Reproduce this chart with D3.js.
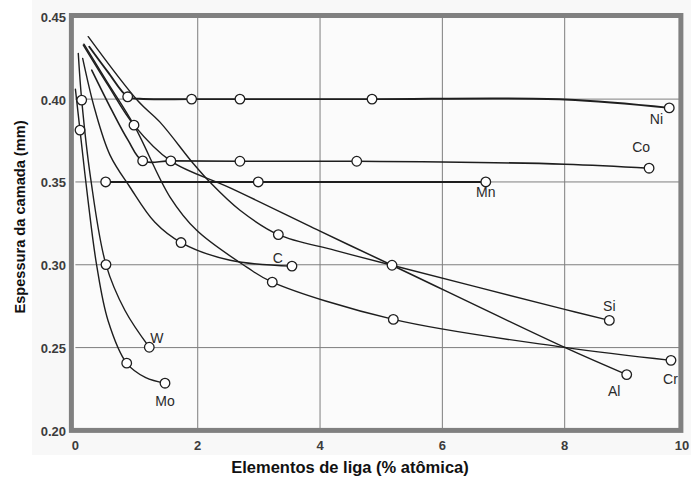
<!DOCTYPE html>
<html>
<head>
<meta charset="utf-8">
<script src="https://cdn.jsdelivr.net/npm/d3@7/dist/d3.min.js"></script>
<style>
  html, body { margin: 0; padding: 0; background: #ffffff; }
  svg { display: block; }
</style>
</head>
<body>
<svg id="chart" width="691" height="477"></svg>
<script>
// Axis ticks
const xTicks = [0, 2, 4, 6, 8, 10];
const yTicks = [0.20, 0.25, 0.30, 0.35, 0.40, 0.45];
const xTitle = "Elementos de liga (% atômica)";
const yTitle = "Espessura da camada (mm)";

// Curves: [% atomic, thickness mm]; markers are the measured points
const niLine    = [[0.227,0.4316],[0.533,0.4163],[0.855,0.4014],[1.05,0.4002],[1.90,0.400],[2.69,0.400],[4.85,0.400],[8.0,0.3998],[9.71,0.3947]];
const niMarks   = [[0.855,0.4014],[1.90,0.400],[2.69,0.400],[4.85,0.400],[9.71,0.3947]];

const coLine    = [[0.267,0.4175],[0.594,0.3933],[0.86,0.3752],[1.10,0.3627],[1.56,0.3627],[2.69,0.3625],[4.60,0.3625],[8.0,0.3607],[9.38,0.3583]];
const coMarks   = [[1.10,0.3627],[1.56,0.3627],[2.69,0.3625],[4.60,0.3625],[9.38,0.3583]];

const mnLine    = [[0.495,0.350],[6.71,0.350]];
const mnMarks   = [[0.495,0.350],[2.99,0.350],[6.71,0.350]];

const moLine    = [[0.0,0.406],[0.075,0.3813],[0.206,0.339],[0.348,0.2996],[0.533,0.2664],[0.839,0.2406],[1.15,0.2318],[1.465,0.2285]];
const moMarks   = [[0.075,0.3813],[0.839,0.2406],[1.465,0.2285]];

const wLine     = [[0.047,0.4276],[0.103,0.3994],[0.25,0.352],[0.50,0.3001],[0.811,0.2724],[1.208,0.2502]];
const wMarks    = [[0.103,0.3994],[0.50,0.3001],[1.208,0.2502]];

const cLine     = [[0.119,0.4246],[0.32,0.3934],[0.566,0.3662],[0.893,0.3468],[1.30,0.3256],[1.727,0.3134],[2.53,0.3027],[3.541,0.2992]];
const cMarks    = [[1.727,0.3134],[3.541,0.2992]];

const crLine    = [[0.14,0.4332],[0.50,0.4115],[0.958,0.3843],[1.547,0.3409],[1.983,0.3208],[2.801,0.2986],[3.219,0.2895],[5.198,0.2670],[8.0,0.2501],[9.738,0.2423]];
const crMarks   = [[0.958,0.3843],[3.219,0.2895],[5.198,0.2670],[9.738,0.2423]];

const siLine    = [[0.21,0.4377],[1.02,0.3990],[1.383,0.3861],[1.923,0.3613],[2.201,0.3498],[2.691,0.3329],[3.318,0.3182],[4.245,0.3087],[5.177,0.2997],[8.0,0.2731],[8.73,0.2664]];
const siMarks   = [[3.318,0.3182],[5.177,0.2997],[8.73,0.2664]];

const alLine    = [[0.13,0.4326],[0.533,0.4084],[0.958,0.3843],[1.563,0.3625],[2.53,0.3464],[4.0,0.3203],[5.177,0.2997],[8.0,0.2501],[9.014,0.2337]];
const alMarks   = [[9.014,0.2337]];

// Element labels: [name, x, y] in data units
const labelNames = ["Ni", "Co", "Mn", "C", "Si", "Al", "Cr", "W", "Mo"];
const labelX     = [9.50, 9.25, 6.71, 3.31, 8.73, 8.81, 9.73, 1.33, 1.465];
const labelY     = [0.3880, 0.3710, 0.3440, 0.3040, 0.2753, 0.2237, 0.2310, 0.2560, 0.2180];

const svg = d3.select("#chart");
const W = 691, H = 477;

const x = d3.scaleLinear().domain([0, 10]).range([75.4, 687]);
const y = d3.scaleLinear().domain([0.20, 0.45]).range([430.4, 16.3]);

// scanned-figure backdrop
svg.append("rect").attr("x", 32).attr("y", 0).attr("width", W - 32).attr("height", 455)
  .attr("fill", "#f8f8f8");
svg.append("rect").attr("x", x(0) - 3).attr("y", y(0.45)).attr("width", x(9.9) - x(0) + 3)
  .attr("height", y(0.20) - y(0.45)).attr("fill", "#fbfbfb");

// grid
const grid = svg.append("g").attr("stroke", "#6a6a6a").attr("stroke-width", 1).attr("opacity", 0.85);
[2, 4, 6, 8].forEach(v => {
  grid.append("line").attr("x1", x(v)).attr("x2", x(v)).attr("y1", y(0.45)).attr("y2", y(0.20));
});
[0.25, 0.30, 0.35, 0.40].forEach(v => {
  grid.append("line").attr("x1", x(0)).attr("x2", x(9.9)).attr("y1", y(v)).attr("y2", y(v));
});

// curves
const lineGen = d3.line().x(d => x(d[0])).y(d => y(d[1])).curve(d3.curveCatmullRom.alpha(0.5));
const curves = [
  [niLine, 1.9], [coLine, 1.6], [mnLine, 2.0], [moLine, 1.4], [wLine, 1.4],
  [cLine, 1.4], [crLine, 1.4], [siLine, 1.4], [alLine, 1.5]
];
const cg = svg.append("g").attr("fill", "none").attr("stroke", "#1e1e1e")
  .attr("stroke-linecap", "round");
curves.forEach(([pts, w]) => {
  cg.append("path").attr("d", lineGen(pts)).attr("stroke-width", w);
});

// markers
const allMarks = [].concat(niMarks, coMarks, mnMarks, moMarks, wMarks, cMarks, crMarks, siMarks, alMarks);
svg.append("g").selectAll("circle").data(allMarks).join("circle")
  .attr("cx", d => x(d[0])).attr("cy", d => y(d[1])).attr("r", 4.8)
  .attr("fill", "#ffffff").attr("stroke", "#1e1e1e").attr("stroke-width", 1.3);

// frame
svg.append("rect")
  .attr("x", x(0) - 4).attr("y", y(0.45) - 0.8)
  .attr("width", x(9.9) - x(0) + 4).attr("height", y(0.20) - y(0.45) + 0.8)
  .attr("fill", "none").attr("stroke", "#808080").attr("stroke-width", 5);

// element labels
svg.append("g").selectAll("text").data(labelNames).join("text")
  .attr("x", (d, i) => x(labelX[i])).attr("y", (d, i) => y(labelY[i]))
  .attr("text-anchor", "middle").attr("dominant-baseline", "central")
  .attr("font-family", "Liberation Sans, Arial, sans-serif").attr("font-size", 14)
  .attr("fill", "#2a2a2a").text(d => d);

// tick labels
svg.append("g").selectAll("text").data(yTicks).join("text")
  .attr("x", 66).attr("y", d => y(d) + 1)
  .attr("text-anchor", "end").attr("dominant-baseline", "central")
  .attr("font-family", "Liberation Sans, Arial, sans-serif").attr("font-size", 13)
  .attr("font-weight", "bold").attr("fill", "#3c3c3c").text(d => d.toFixed(2));
svg.append("g").selectAll("text").data(xTicks).join("text")
  .attr("x", d => Math.min(x(d), 682)).attr("y", 445)
  .attr("text-anchor", "middle").attr("dominant-baseline", "central")
  .attr("font-family", "Liberation Sans, Arial, sans-serif").attr("font-size", 13)
  .attr("font-weight", "bold").attr("fill", "#3c3c3c").text(d => d);

// axis titles
svg.append("text").attr("x", 350).attr("y", 467)
  .attr("text-anchor", "middle").attr("dominant-baseline", "central")
  .attr("font-family", "Liberation Sans, Arial, sans-serif").attr("font-size", 16.5)
  .attr("font-weight", "bold").attr("fill", "#111").text(xTitle);
svg.append("text").attr("transform", "translate(20,217) rotate(-90)")
  .attr("text-anchor", "middle").attr("dominant-baseline", "central")
  .attr("font-family", "Liberation Sans, Arial, sans-serif").attr("font-size", 14.6)
  .attr("font-weight", "bold").attr("fill", "#111").text(yTitle);
</script>
</body>
</html>
